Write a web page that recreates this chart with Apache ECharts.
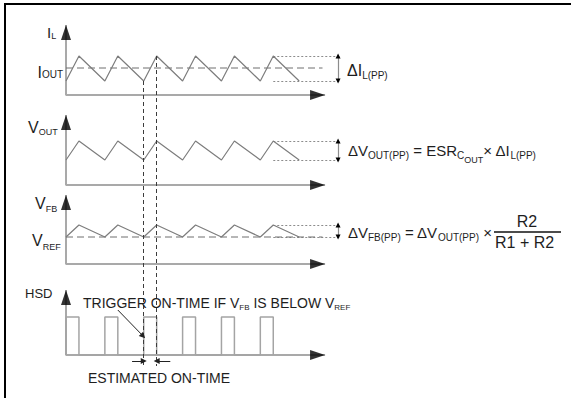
<!DOCTYPE html>
<html>
<head>
<meta charset="utf-8">
<script src="https://cdn.jsdelivr.net/npm/echarts@6/dist/echarts.min.js"></script>
<style>
  html, body { margin: 0; padding: 0; background: #fff; }
  #chart { width: 571px; height: 398px; }
</style>
</head>
<body>
<div id="chart"></div>
<script>
// Instants (in thirds of a switching cycle) where the ripple changes slope
const rippleTimes = [0, 1, 3, 4, 6, 7, 9, 10, 12, 13, 15, 16, 18];
// Ripple levels, measured above each trace's own time axis
const inductorCurrent = [14, 39, 14, 39, 14, 39, 14, 39, 14, 39, 14, 39, 14];
const outputVoltage   = [25, 44, 25, 44, 25, 44, 25, 44, 25, 44, 25, 44, 25];
const feedbackVoltage = [27, 39, 27, 39, 27, 39, 27, 39, 27, 39, 27, 39, 27];
const outputCurrentLevel = 27;   // I_OUT
const referenceLevel = 27;       // V_REF
// High-side driver on-time pulses
const hsdTimes  = [0, 0, 1, 1, 3, 3, 4, 4, 6, 6, 7, 7, 9, 9, 10, 10, 12, 12, 13, 13, 15, 15, 16, 16];
const hsdLevels = [0, 38, 38, 0, 0, 38, 38, 0, 0, 38, 38, 0, 0, 38, 38, 0, 0, 38, 38, 0, 0, 38, 38, 0];
// Trace stacking: level of each time axis and height of its vertical axis
const traceBase   = [271, 181, 102, 11];
const traceHeight = [70, 70, 69, 65];
const timeAxisEnd = 20;
const lastPeakTime = 16;
const measureEnd = 21.2;
const measureAt = 21;
const meanLineEnd = 19.8;
const cursorTimes = [6, 7];

const FONT = '"Liberation Sans", Arial, Helvetica, sans-serif';
const TEXT = '#1e1e1e';

const chart = echarts.init(document.getElementById('chart'), null, { renderer: 'svg' });

const at = (trace, t, v) => [t, traceBase[trace] + v];
const ripples = [inductorCurrent, outputVoltage, feedbackVoltage];

// Time axes and vertical axes of the four traces
const axisSeries = traceBase.map((b, i) => ({
  type: 'line',
  data: [[0, b + traceHeight[i]], [0, b], [timeAxisEnd, b]],
  symbol: 'none',
  lineStyle: { color: '#a9a9a9', width: 2 },
  silent: true, z: 1
}));

const arrowHeads = {
  type: 'scatter',
  silent: true, z: 10,
  itemStyle: { color: '#000' },
  data: [
    ...traceBase.map(b => ({
      value: [timeAxisEnd, b],
      symbol: 'path://M0,0L15,5L0,10Z', symbolSize: [15, 10], symbolOffset: [-7.5, 0]
    })),
    ...traceBase.map((b, i) => ({
      value: [0, b + traceHeight[i]],
      symbol: 'path://M0,15L5,0L10,15Z', symbolSize: [10, 15], symbolOffset: [0, 7.5]
    }))
  ]
};

const rippleSeries = ripples.map((vals, i) => ({
  type: 'line',
  data: rippleTimes.map((t, k) => at(i, t, vals[k])),
  symbol: 'none',
  lineStyle: { color: '#7d7d7d', width: 1.2 },
  silent: true, z: 3
}));

const hsdSeries = {
  type: 'line',
  data: hsdTimes.map((t, k) => at(3, t, hsdLevels[k])),
  symbol: 'none',
  lineStyle: { color: '#a4a4a4', width: 1.5 },
  silent: true, z: 3
};

const meanSeries = [[0, outputCurrentLevel], [2, referenceLevel]].map(([i, lvl]) => ({
  type: 'line',
  data: [at(i, 0, lvl), at(i, meanLineEnd, lvl)],
  symbol: 'none',
  lineStyle: { color: '#6e6e6e', width: 1, type: [7, 4] },
  silent: true, z: 2
}));

// Peak-to-peak measurement guides
const peakIdx = rippleTimes.indexOf(lastPeakTime);
const guideSeries = {
  type: 'lines',
  coordinateSystem: 'cartesian2d',
  silent: true, z: 2,
  lineStyle: { color: '#8c8c8c', width: 1, type: [2, 2], opacity: 1 },
  data: ripples.flatMap((vals, i) => [
    { coords: [at(i, lastPeakTime, vals[peakIdx]), at(i, measureEnd, vals[peakIdx])] },
    { coords: [at(i, lastPeakTime, vals[peakIdx + 1]), at(i, measureEnd, vals[peakIdx + 1])] }
  ])
};
const spanShafts = {
  type: 'lines',
  coordinateSystem: 'cartesian2d',
  silent: true, z: 4,
  lineStyle: { color: '#8c8c8c', width: 1.2, opacity: 1 },
  data: ripples.map((vals, i) => ({
    coords: [at(i, measureAt, vals[peakIdx + 1]), at(i, measureAt, vals[peakIdx])]
  }))
};
const spanHeads = {
  type: 'lines',
  coordinateSystem: 'cartesian2d',
  silent: true, z: 5,
  symbol: ['none', 'triangle'], symbolSize: 5,
  lineStyle: { color: '#000', width: 1, opacity: 1 },
  data: ripples.flatMap((vals, i) => [
    { coords: [at(i, measureAt, vals[peakIdx] - 0.5), at(i, measureAt, vals[peakIdx])] },
    { coords: [at(i, measureAt, vals[peakIdx + 1] + 0.5), at(i, measureAt, vals[peakIdx + 1])] }
  ])
};

// Timing cursors from the inductor current down through the HSD trace
const cursorSeries = {
  type: 'lines',
  coordinateSystem: 'cartesian2d',
  silent: true, z: 6,
  lineStyle: { color: '#3c3c3c', width: 1, type: [4, 3], opacity: 1 },
  data: cursorTimes.map(t => ({
    coords: [at(0, t, inductorCurrent[rippleTimes.indexOf(t)]), at(3, t, -11)]
  }))
};

// Trigger pointer and on-time markers
const pointerSeries = {
  type: 'lines',
  coordinateSystem: 'cartesian2d',
  silent: true, z: 7,
  symbol: ['none', 'triangle'], symbolSize: 6,
  lineStyle: { color: '#222', width: 1, opacity: 1 },
  data: [
    { coords: [at(3, 4.0, 45), at(3, 5.95, 19)] },
    { coords: [at(3, 5.1, -6), at(3, 6, -6)] },
    { coords: [at(3, 8.05, -6), at(3, 7, -6)] }
  ]
};

// Text with subscripts: each piece is [text, fontSize, drop below baseline]
const K = 0.31;
function richText(x, baseline, align, pieces) {
  const top = baseline - 24;
  const rich = {};
  let text = '';
  pieces.forEach(([s, size, drop], i) => {
    const centre = baseline + (drop || 0) - K * size;
    rich['p' + i] = {
      fontSize: size, fontFamily: FONT, fill: TEXT,
      verticalAlign: 'top', height: 2 * (centre - top)
    };
    text += '{p' + i + '|' + s + '}';
  });
  return {
    type: 'text', x: x, y: top, silent: true, z: 20,
    style: { text: text, rich: rich, align: align, verticalAlign: 'top', fill: TEXT, fontFamily: FONT }
  };
}

const labels = [
  richText(47, 37, 'left', [['I', 15, 0], ['L', 9, 2]]),
  richText(63, 77, 'right', [['I', 16, 0], ['OUT', 10, 1]]),
  richText(28, 132, 'left', [['V', 16, 0], ['OUT', 9, 3]]),
  richText(35, 208, 'left', [['V', 16, 0], ['FB', 9, 4]]),
  richText(32, 245, 'left', [['V', 16, 0], ['REF', 9, 5]]),
  richText(25, 298, 'left', [['HSD', 13, 0]]),
  richText(83, 307, 'left', [['TRIGGER ON-TIME IF V', 14, 0], ['FB', 8, 3], [' IS BELOW V', 14, 0], ['REF', 8, 3]]),
  richText(88, 382, 'left', [['ESTIMATED ON-TIME', 14, 0]]),
  richText(347, 75, 'left', [['ΔI', 16, 0], ['L(PP)', 10, 4]]),
  richText(348, 155, 'left', [['ΔV', 15, 0], ['OUT(PP)', 10, 4], [' = ESR', 15, 0], ['C', 10, 4], ['OUT', 9, 8], ['× ΔI', 15, 0], ['L(PP)', 10, 4]]),
  richText(348, 237, 'left', [['ΔV', 15, 0], ['FB(PP)', 10, 4], [' = ΔV', 15, 0], ['OUT(PP)', 10, 4], [' ×', 15, 0]]),
  richText(527, 226, 'center', [['R2', 16, 0]]),
  richText(495, 247, 'left', [['R1 + R2', 16, 0]])
];

chart.setOption({
  animation: false,
  backgroundColor: '#fff',
  grid: { left: 66, top: 25, width: 285, height: 341 },
  xAxis: { type: 'value', min: 0, max: 22, show: false },
  yAxis: { type: 'value', min: 0, max: 341, show: false },
  series: [
    ...axisSeries,
    ...meanSeries,
    guideSeries,
    ...rippleSeries,
    hsdSeries,
    spanShafts,
    spanHeads,
    cursorSeries,
    pointerSeries,
    arrowHeads
  ],
  graphic: [
    ...labels,
    { type: 'line', silent: true, z: 20, shape: { x1: 494, y1: 232, x2: 561, y2: 232 }, style: { stroke: '#111', lineWidth: 1.5 } },
    { type: 'polyline', silent: true, z: 30, shape: { points: [[5, 398], [5, 4], [571, 4]] }, style: { stroke: '#000', lineWidth: 2, fill: null } }
  ]
});
</script>
</body>
</html>
